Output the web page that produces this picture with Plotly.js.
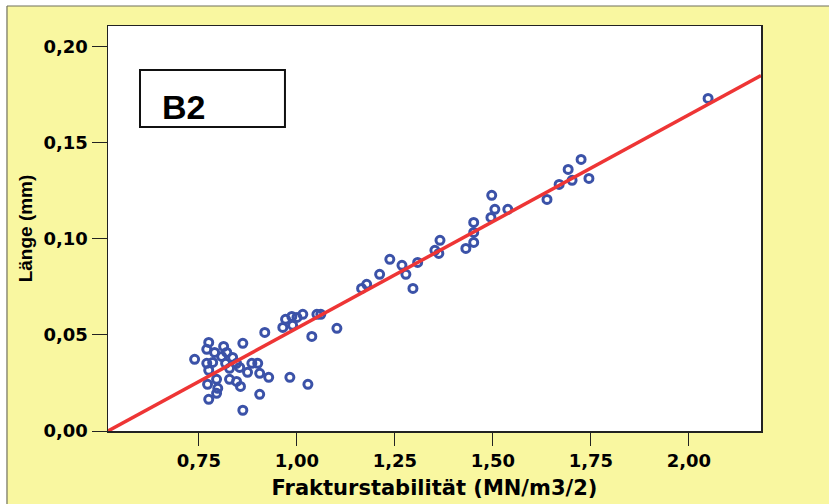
<!DOCTYPE html>
<html>
<head>
<meta charset="utf-8">
<script src="https://cdn.plot.ly/plotly-3.0.1.min.js"></script>
<style>
  html, body { margin: 0; padding: 0; background: #ffffff; }
  #chart { width: 829px; height: 504px; }
</style>
</head>
<body>
<div id="chart"></div>
<script>
// Scatter data: Frakturstabilität (MN/m3/2) vs Länge (mm)
const fractureStability = [
  0.739, 0.775, 0.770, 0.790, 0.813, 0.821, 0.808, 0.785, 0.770, 0.818,
  0.836, 0.846, 0.862, 0.918, 0.885, 0.900, 0.854, 0.828, 0.874, 0.905,
  0.928, 0.982, 0.795, 0.828, 0.846, 0.772, 0.798, 0.856, 0.795, 0.775,
  0.905, 0.862, 0.775, 1.028,
  0.964, 0.971, 0.987, 1.000, 1.015, 0.989, 1.038, 1.051, 1.061, 1.102,
  1.165, 1.178, 1.211, 1.237, 1.268, 1.278, 1.296, 1.308, 1.352, 1.362,
  1.365, 1.431, 1.451, 1.451, 1.451, 1.495, 1.505, 1.497, 1.538, 1.638,
  1.669, 1.692, 1.702, 1.725, 1.745, 2.049
];
const crackLength = [
  0.0373, 0.0461, 0.0425, 0.0409, 0.0440, 0.0409, 0.0388, 0.0357, 0.0352, 0.0352,
  0.0383, 0.0352, 0.0456, 0.0513, 0.0352, 0.0352, 0.0331, 0.0326, 0.0305, 0.0300,
  0.0279, 0.0279, 0.0269, 0.0269, 0.0258, 0.0243, 0.0222, 0.0232, 0.0196, 0.0165,
  0.0191, 0.0108, 0.0316, 0.0243,
  0.0539, 0.0581, 0.0596, 0.0591, 0.0607, 0.0550, 0.0492, 0.0607, 0.0607, 0.0534,
  0.0742, 0.0763, 0.0815, 0.0893, 0.0862, 0.0815, 0.0742, 0.0877, 0.0940, 0.0924,
  0.0992, 0.0950, 0.0981, 0.1033, 0.1085, 0.1111, 0.1153, 0.1226, 0.1153, 0.1205,
  0.1283, 0.1361, 0.1304, 0.1413, 0.1314, 0.1730
];
// Linear fit line end points
const fitX = [0.518, 2.184];
const fitY = [0.0, 0.1849];

// Tick labels
const xTickVals = [0.75, 1.00, 1.25, 1.50, 1.75, 2.00];
const xTickText = ["0,75", "1,00", "1,25", "1,50", "1,75", "2,00"];
const yTickVals = [0.00, 0.05, 0.10, 0.15, 0.20];
const yTickText = ["0,00", "0,05", "0,10", "0,15", "0,20"];

const panelLabel = "B2";
const xTitle = "Frakturstabilität (MN/m3/2)";
const yTitle = "Länge (mm)";

const yellow = "#f9f7a0";
const frameColor = "#70705c";
const tickFont = { family: "DejaVu Sans, Liberation Sans, sans-serif", size: 18, weight: 700, color: "#000000" };

const traces = [
  {
    type: "scatter",
    mode: "markers",
    x: fractureStability,
    y: crackLength,
    marker: { symbol: "circle-open", size: 8, color: "#3b52a8", line: { width: 3, color: "#3b52a8" } },
    showlegend: false,
    hoverinfo: "x+y"
  },
  {
    type: "scatter",
    mode: "lines",
    x: fitX,
    y: fitY,
    line: { color: "#ee3535", width: 3.5 },
    showlegend: false,
    hoverinfo: "skip"
  }
];

const layout = {
  width: 829,
  height: 504,
  margin: { l: 108, r: 68, t: 26, b: 73, pad: 0 },
  paper_bgcolor: yellow,
  plot_bgcolor: "#ffffff",
  showlegend: false,
  xaxis: {
    range: [0.518, 2.184],
    tickvals: xTickVals,
    ticktext: xTickText,
    ticks: "outside",
    ticklen: 13,
    tickwidth: 1,
    tickcolor: "#222222",
    showline: true,
    mirror: true,
    linecolor: "#222222",
    linewidth: 1.5,
    showgrid: false,
    zeroline: false,
    tickfont: tickFont,
    title: {
      text: xTitle,
      font: { family: "DejaVu Sans, Liberation Sans, sans-serif", size: 21, weight: 700, color: "#000000" },
      standoff: 10
    }
  },
  yaxis: {
    range: [0, 0.2107],
    tickvals: yTickVals,
    ticktext: yTickText,
    ticks: "outside",
    ticklen: 15,
    tickwidth: 1,
    tickcolor: "#222222",
    showline: true,
    mirror: true,
    linecolor: "#222222",
    linewidth: 1.5,
    showgrid: false,
    zeroline: false,
    tickfont: tickFont,
    title: {
      text: yTitle,
      font: { family: "Liberation Sans Narrow, Arial Narrow, Liberation Sans, sans-serif", size: 19, weight: 700, color: "#000000" },
      standoff: 6
    }
  },
  shapes: [
    // white margin above and left of the yellow frame
    { type: "rect", xref: "paper", yref: "paper", x0: -0.3, x1: 1.3, y0: 1.0494, y1: 1.3, fillcolor: "#ffffff", line: { width: 0 }, layer: "below" },
    { type: "rect", xref: "paper", yref: "paper", x0: -0.3, x1: -0.1547, y0: -0.3, y1: 1.3, fillcolor: "#ffffff", line: { width: 0 }, layer: "below" },
    { type: "line", xref: "paper", yref: "paper", x0: -0.1547, x1: 1.3, y0: 1.0494, y1: 1.0494, line: { color: frameColor, width: 1.2 } },
    { type: "line", xref: "paper", yref: "paper", x0: -0.1547, x1: -0.1547, y0: -0.3, y1: 1.0494, line: { color: frameColor, width: 1.2 } },
    // panel label box
    { type: "rect", xref: "paper", yref: "paper", x0: 0.049, x1: 0.271, y0: 0.7506, y1: 0.8914, fillcolor: "rgba(255,255,255,0)", line: { color: "#111111", width: 2 } }
  ],
  annotations: [
    {
      xref: "paper", yref: "paper", x: 0.0796, y: 0.8,
      xanchor: "left", yanchor: "middle",
      text: panelLabel, showarrow: false,
      font: { family: "Liberation Sans, Arial, sans-serif", size: 34, weight: 700, color: "#000000" }
    }
  ]
};

Plotly.newPlot("chart", traces, layout, { displayModeBar: false, staticPlot: true });
</script>
</body>
</html>
